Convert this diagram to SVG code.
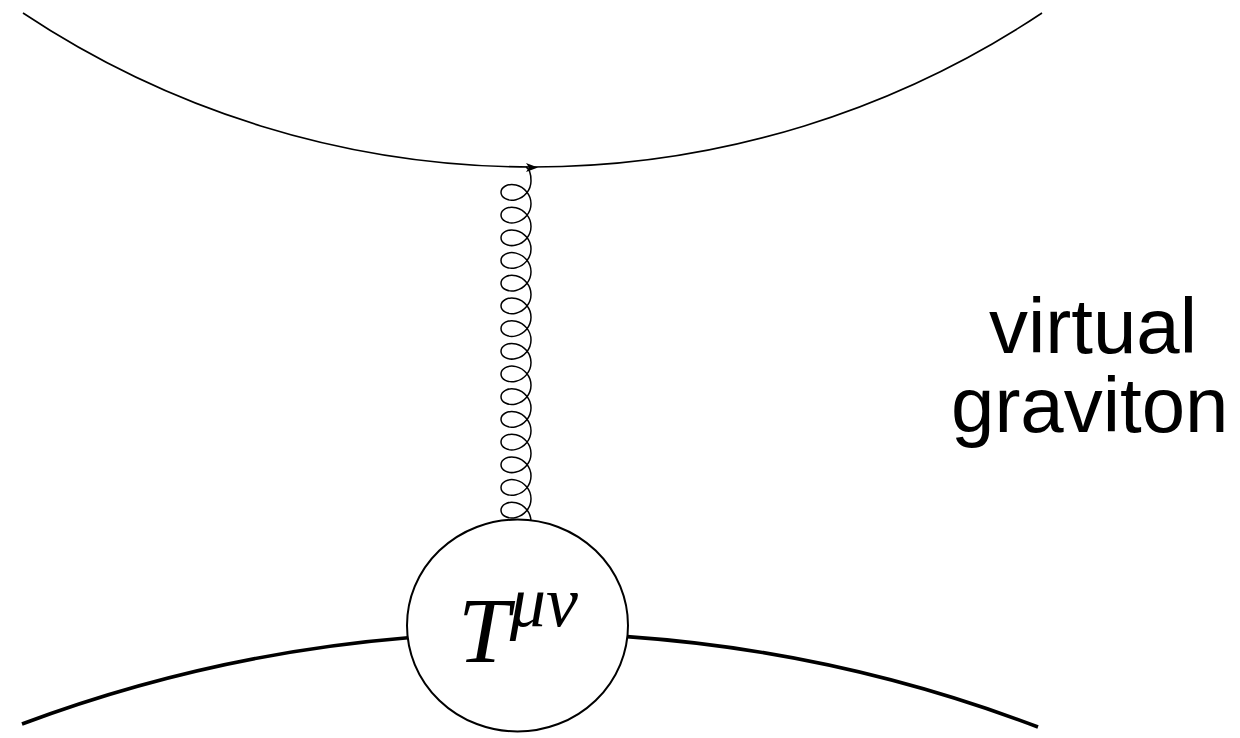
<svg xmlns="http://www.w3.org/2000/svg" width="1240" height="738" viewBox="0 0 1240 738">
<style>
.thin{fill:none;stroke:#000;stroke-width:1.6}
.thick{fill:none;stroke:#000;stroke-width:3.6;stroke-linecap:butt}
.gluon{fill:none;stroke:#000;stroke-width:1.5}
.blob{fill:#fff;stroke:#000;stroke-width:2}
.math{font-family:"Liberation Serif","Times New Roman",serif;font-style:italic;fill:#000}
.label{font-family:"Liberation Sans",Arial,sans-serif;font-size:78px;fill:#000}
</style>
<g id="connectors">
  <path id="top-line" class="thin" d="M23,13 A920,920 0 0 0 1042,13"/>
  <polygon id="top-arrow" points="538,167.5 526,163 529,167.5 526,172" fill="#000"/>
  <path id="graviton" class="gluon" d="M526,167 C530,169 531,175 531,181
c0,9.18 -6.72,16.68 -15,18.68 c-8.28,2 -15,-2.14 -15,-7.33 c0,-5.18 6.72,-9.32 15,-7.32 c8.28,2 15,9.49 15,18.67
c0,9.18 -6.72,16.68 -15,18.68 c-8.28,2 -15,-2.14 -15,-7.33 c0,-5.18 6.72,-9.32 15,-7.32 c8.28,2 15,9.49 15,18.67
c0,9.18 -6.72,16.68 -15,18.68 c-8.28,2 -15,-2.14 -15,-7.33 c0,-5.18 6.72,-9.32 15,-7.32 c8.28,2 15,9.49 15,18.67
c0,9.18 -6.72,16.68 -15,18.68 c-8.28,2 -15,-2.14 -15,-7.33 c0,-5.18 6.72,-9.32 15,-7.32 c8.28,2 15,9.49 15,18.67
c0,9.18 -6.72,16.68 -15,18.68 c-8.28,2 -15,-2.14 -15,-7.33 c0,-5.18 6.72,-9.32 15,-7.32 c8.28,2 15,9.49 15,18.67
c0,9.18 -6.72,16.68 -15,18.68 c-8.28,2 -15,-2.14 -15,-7.33 c0,-5.18 6.72,-9.32 15,-7.32 c8.28,2 15,9.49 15,18.67
c0,9.18 -6.72,16.68 -15,18.68 c-8.28,2 -15,-2.14 -15,-7.33 c0,-5.18 6.72,-9.32 15,-7.32 c8.28,2 15,9.49 15,18.67
c0,9.18 -6.72,16.68 -15,18.68 c-8.28,2 -15,-2.14 -15,-7.33 c0,-5.18 6.72,-9.32 15,-7.32 c8.28,2 15,9.49 15,18.67
c0,9.18 -6.72,16.68 -15,18.68 c-8.28,2 -15,-2.14 -15,-7.33 c0,-5.18 6.72,-9.32 15,-7.32 c8.28,2 15,9.49 15,18.67
c0,9.18 -6.72,16.68 -15,18.68 c-8.28,2 -15,-2.14 -15,-7.33 c0,-5.18 6.72,-9.32 15,-7.32 c8.28,2 15,9.49 15,18.67
c0,9.18 -6.72,16.68 -15,18.68 c-8.28,2 -15,-2.14 -15,-7.33 c0,-5.18 6.72,-9.32 15,-7.32 c8.28,2 15,9.49 15,18.67
c0,9.18 -6.72,16.68 -15,18.68 c-8.28,2 -15,-2.14 -15,-7.33 c0,-5.18 6.72,-9.32 15,-7.32 c8.28,2 15,9.49 15,18.67
c0,9.18 -6.72,16.68 -15,18.68 c-8.28,2 -15,-2.14 -15,-7.33 c0,-5.18 6.72,-9.32 15,-7.32 c8.28,2 15,9.49 15,18.67
c0,9.18 -6.72,16.68 -15,18.68 c-8.28,2 -15,-2.14 -15,-7.33 c0,-5.18 6.72,-9.32 15,-7.32 c8.28,2 15,9.49 15,18.67
c0,9.18 -6.72,16.68 -15,18.68 c-8.28,2 -15,-2.14 -15,-7.33 c0,-5.18 6.72,-9.32 15,-7.32 c8.28,2 15,9.49 15,18.67"/>
  <path id="bottom-left" class="thick" d="M22,724 A1436,1436 0 0 1 408,637.8"/>
  <path id="bottom-right" class="thick" d="M627,636.6 A1436,1436 0 0 1 1038,727"/>
</g>
<g id="node-T">
  <ellipse class="blob" cx="517.5" cy="625.5" rx="110.5" ry="106"/>
  <text class="math" x="458" y="662" font-size="93">T<tspan font-size="72" dy="-36">μν</tspan></text>
</g>
<g id="label-virtual-graviton">
  <text class="label" x="989" y="353">virtual</text>
  <text class="label" x="951" y="432">graviton</text>
</g>
</svg>
